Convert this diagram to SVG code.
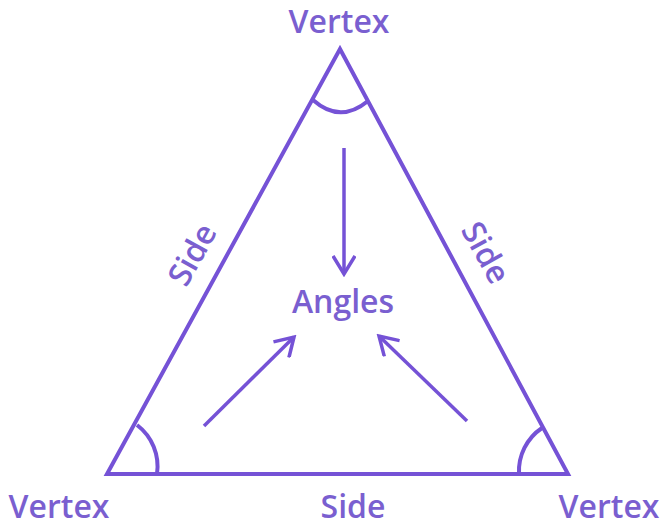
<svg xmlns="http://www.w3.org/2000/svg" width="664" height="525" viewBox="0 0 664 525">
<defs>
<style>
.ln{fill:none;stroke:#7552d6;stroke-width:4;stroke-linejoin:miter;stroke-linecap:butt}
.ar{fill:none;stroke:#7552d6;stroke-width:3.5;stroke-linecap:butt}
.t{font-family:"Open Sans","Liberation Sans",sans-serif;font-size:32px;font-weight:600;fill:#7a5fd0;text-anchor:middle}
</style>
<marker id="ah" viewBox="0 0 24 24" refX="21" refY="12" markerWidth="24" markerHeight="24" markerUnits="userSpaceOnUse" orient="auto">
<polyline points="3,1 21,12 3,23" fill="none" stroke="#7552d6" stroke-width="3.5"/>
</marker>
</defs>
<rect width="664" height="525" fill="#ffffff"/>
<g id="triangle">
<polygon class="ln" points="340,49 107,474 568,474"/>
<path class="ln" d="M313,100 Q340,124 368,101"/>
<path class="ln" d="M137,425 A52,52 0 0 1 157,474"/>
<path class="ln" d="M542,428 A52,52 0 0 0 519,474"/>
</g>
<g id="labels">
<text class="t" x="339" y="33">Vertex</text>
<text class="t" x="59" y="518">Vertex</text>
<text class="t" x="609" y="518">Vertex</text>
<text class="t" x="353" y="518">Side</text>
<text class="t" transform="translate(202,260) rotate(-61)">Side</text>
<text class="t" transform="translate(476,258) rotate(61)">Side</text>
<text class="t" x="343" y="313">Angles</text>
</g>
<g id="connectors">
<line class="ar" x1="344" y1="148" x2="344" y2="274" marker-end="url(#ah)"/>
<line class="ar" x1="204" y1="426" x2="294" y2="337" marker-end="url(#ah)"/>
<line class="ar" x1="467" y1="421" x2="379" y2="336" marker-end="url(#ah)"/>
</g>
</svg>
